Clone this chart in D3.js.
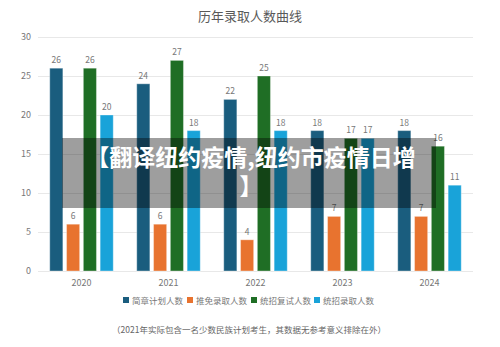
<!DOCTYPE html>
<html><head><meta charset="utf-8">
<script src="https://cdn.jsdelivr.net/npm/d3@7/dist/d3.min.js"></script>
<style>body{margin:0;background:#fff}svg{display:block;font-family:"Noto Sans CJK SC","Noto Sans",sans-serif}</style>
</head><body><svg id="c" width="500" height="347"></svg>
<script>
const years = ["2020","2021","2022","2023","2024"];
const seriesNames = ["简章计划人数","推免录取人数","统招复试人数","统招录取人数"];
const planned = [26,24,22,18,18];
const exempt = [6,6,4,7,7];
const retest = [26,27,25,17,16];
const admitted = [20,18,18,17,11];
const yTicks = [0,5,10,15,20,25,30];
const colors = ["#1a5d7e","#e8732f","#1f6e25","#19a3d9"];
const title = "历年录取人数曲线";
const note = "（2021年实际包含一名少数民族计划考生，其数据无参考意义排除在外）";
const banner = ["【翻译纽约疫情,纽约市疫情日增","】"];

const values = [planned, exempt, retest, admitted];
const svg = d3.select("#c");
const m = {l:38, r:473, t:37, b:271};
const x = d3.scaleBand().domain(years).range([m.l, m.r]);
const x1 = d3.scaleBand().domain(seriesNames).range([0, x.bandwidth()]).paddingInner(0.22).paddingOuter(0.7);
const y = d3.scaleLinear().domain([0,30]).range([m.b, m.t]);

svg.append("text").attr("x",250).attr("y",21).attr("text-anchor","middle").attr("font-size",13).attr("fill","#595959").text(title);

const yAxis = svg.append("g");
yAxis.selectAll("line").data(yTicks).join("line")
  .attr("x1",m.l).attr("x2",m.r).attr("y1",d=>y(d)+0.5).attr("y2",d=>y(d)+0.5)
  .attr("stroke","#e8e8e8").attr("stroke-width",1);
yAxis.selectAll("text").data(yTicks).join("text")
  .attr("x",31).attr("y",d=>y(d)+3).attr("text-anchor","end").attr("font-size",9).attr("fill","#777").text(d=>d);

svg.append("g").selectAll("text").data(years).join("text")
  .attr("x",d=>x(d)+x.bandwidth()/2).attr("y",286).attr("text-anchor","middle").attr("font-size",9).attr("fill","#777").text(d=>d);

seriesNames.forEach((s,si)=>{
  const g = svg.append("g");
  g.selectAll("rect").data(values[si]).join("rect")
    .attr("x",(d,i)=>x(years[i])+x1(s)).attr("width",x1.bandwidth())
    .attr("y",d=>y(d)).attr("height",d=>y(0)-y(d))
    .attr("fill",colors[si]).attr("stroke","rgba(255,255,255,0.35)").attr("stroke-width",1);
  g.selectAll("text").data(values[si]).join("text")
    .attr("x",(d,i)=>x(years[i])+x1(s)+x1.bandwidth()/2).attr("y",d=>y(d)-5)
    .attr("text-anchor","middle").attr("font-size",8.5).attr("fill","#777").text(d=>d);
});

// legend
const lg = svg.append("g");
const lx = [123,187,251,314];
seriesNames.forEach((s,i)=>{
  lg.append("rect").attr("x",lx[i]).attr("y",297).attr("width",6).attr("height",6).attr("fill",colors[i]);
  lg.append("text").attr("x",lx[i]+9).attr("y",303.5).attr("font-size",8.5).attr("fill","#777").text(s);
});

svg.append("text").attr("x",249).attr("y",333).attr("text-anchor","middle").attr("font-size",8.5).attr("fill","#666").text(note);

// overlay banner
svg.append("rect").attr("x",62).attr("y",138).attr("width",374).attr("height",70).attr("fill","rgba(0,0,0,0.38)");
banner.forEach((t,i)=>{
  svg.append("text").attr("x",251).attr("y",166+i*29).attr("text-anchor","middle")
    .attr("font-size",23).attr("font-weight","bold").attr("fill","#fff").text(t);
});
</script></body></html>
